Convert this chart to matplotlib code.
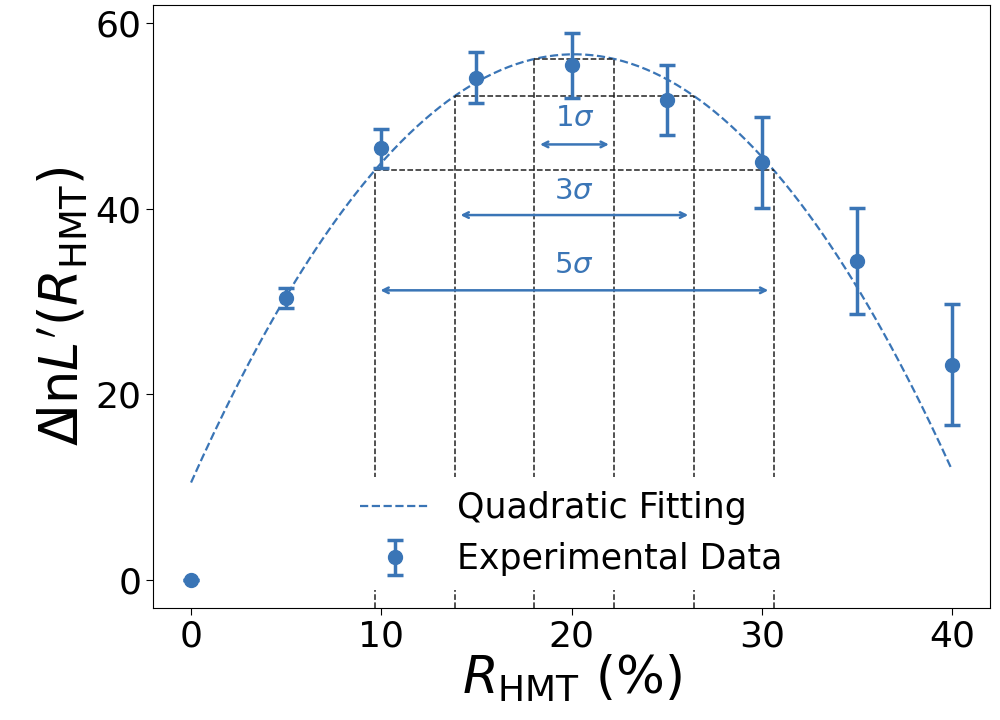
import numpy as np
import matplotlib
matplotlib.use("Agg")
import matplotlib.pyplot as plt

# experimental points
r_hmt = [0, 5, 10, 15, 20, 25, 30, 35, 40]
dlnl = [0.0, 30.4, 46.5, 54.1, 55.4, 51.7, 45.0, 34.4, 23.2]
dlnl_err = [0.0, 1.1, 2.1, 2.7, 3.5, 3.75, 4.9, 5.7, 6.5]

# quadratic fit  y = a*(x-h)^2 + k
fit_a, fit_h, fit_k = -0.1135, 20.15, 56.6
fit_range = [0, 40]

# sigma levels and intervals
sig_labels = ['1$\\sigma$', '3$\\sigma$', '5$\\sigma$']
sig_level = [56.1, 52.1, 44.1]
sig_lo = [18.05, 13.87, 9.66]
sig_hi = [22.26, 26.43, 30.64]
arrow_y = [46.9, 39.3, 31.2]
label_y = [49.7, 41.9, 33.9]

blue = '#3a75b6'

fig = plt.figure(figsize=(10, 7.2), dpi=100)
ax = fig.add_axes([0.153, 0.156, 0.837, 0.837])

ymin, ymax = -2.95, 61.9
xs = np.linspace(fit_range[0], fit_range[1], 200)
ax.plot(xs, fit_a*(xs-fit_h)**2 + fit_k, '--', color=blue, lw=1.6, label='Quadratic Fitting')

for lv, lo, hi in zip(sig_level, sig_lo, sig_hi):
	ax.plot([lo, hi], [lv, lv], '--', color='#222222', lw=1.1)
	ax.plot([lo, lo], [ymin, lv], '--', color='#222222', lw=1.1)
	ax.plot([hi, hi], [ymin, lv], '--', color='#222222', lw=1.1)

for lab, lo, hi, ay, ty in zip(sig_labels, sig_lo, sig_hi, arrow_y, label_y):
	ax.annotate('', xy=(lo, ay), xytext=(hi, ay),
		arrowprops=dict(arrowstyle='<->', color=blue, lw=1.8, shrinkA=4, shrinkB=4))
	ax.text((lo+hi)/2, ty, lab, color=blue, fontsize=21, ha='center', va='center')

ax.errorbar(r_hmt, dlnl, yerr=dlnl_err, fmt='o', color=blue, ms=10, lw=2.5,
	capsize=6, capthick=2.5, label='Experimental Data', zorder=5)

ax.set_xlim(-2, 42)
ax.set_ylim(ymin, ymax)
ax.set_xticks([0, 10, 20, 30, 40])
ax.set_yticks([0, 20, 40, 60])
ax.tick_params(labelsize=26, length=5)
ax.set_xlabel(r'$R_{\mathrm{HMT}}$ (%)', fontsize=37, labelpad=0)
ax.set_ylabel(r"$\Delta\!\ln\!L'(R_{\mathrm{HMT}})$", fontsize=38, labelpad=4)

leg = ax.legend(loc='lower center', fontsize=25, framealpha=1, edgecolor='none')
leg.set_zorder(10)

fig.savefig('out.png', dpi=100)
